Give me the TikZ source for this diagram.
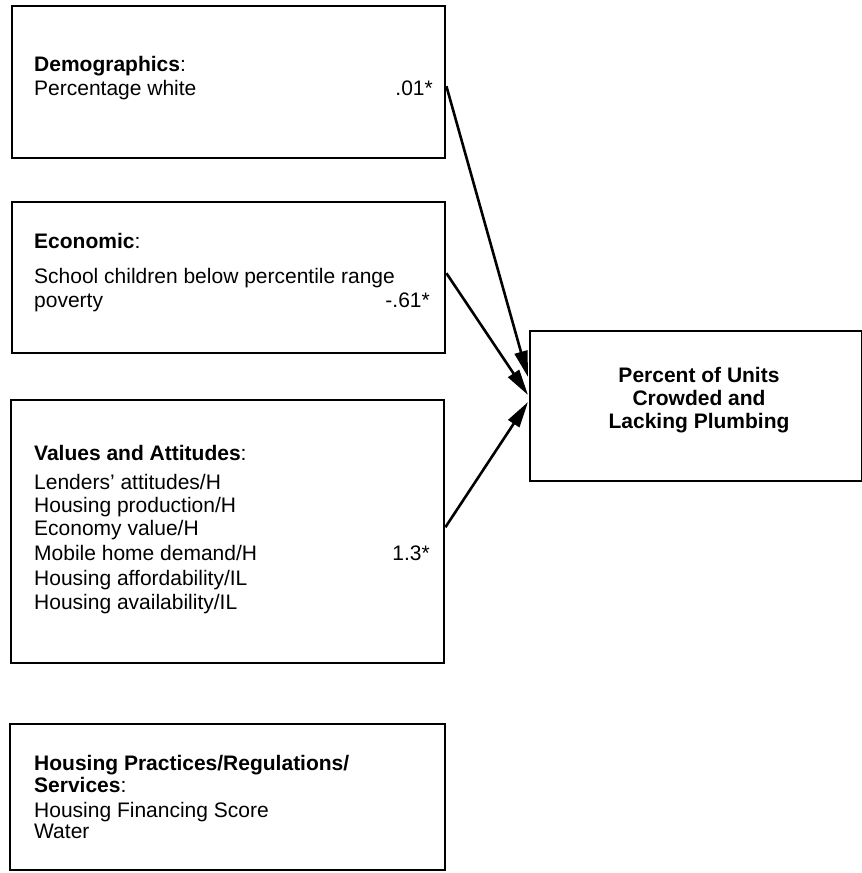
\documentclass[tikz,border=0pt]{standalone}
\usepackage{fontspec}
\setmainfont{Liberation Sans}
\usetikzlibrary{arrows.meta,calc}
\begin{document}
\begin{tikzpicture}[x=1pt,y=-1pt,
  box/.style={draw, line width=2.4pt, rectangle, anchor=north west, inner sep=0pt},
  txt/.style={anchor=base west, inner sep=0pt, font=\fontsize{21}{24}\selectfont},
  val/.style={anchor=base east, inner sep=0pt, font=\fontsize{21}{24}\selectfont},
  ctr/.style={anchor=base, inner sep=0pt, font=\fontsize{21}{24}\selectfont\bfseries},
  link/.style={line width=2.6pt, -{Triangle[length=26pt,width=13pt]}}]
\useasboundingbox (0,0) rectangle (862,873);

% boxes
\node[box, minimum width=433pt, minimum height=152pt] (b1) at (11,5) {};
\node[box, minimum width=433pt, minimum height=151pt] (b2) at (11,201) {};
\node[box, minimum width=433pt, minimum height=263pt] (b3) at (10,399) {};
\node[box, minimum width=435pt, minimum height=146pt] (b4) at (9,723) {};
\node[box, minimum width=332pt, minimum height=150pt] (r) at (529,330) {};

% box 1
\node[txt] (d0) at (34,71) {\textbf{Demographics}:};
\node[txt] (d1) at (34,95) {Percentage white};
\node[val] (dv) at (433,95) {.01*};

% box 2
\node[txt] (e0) at (34,248) {\textbf{Economic}:};
\node[txt] (e1) at (34,283) {School children below percentile range};
\node[txt] (e2) at (34,307) {poverty};
\node[val] (ev) at (430,307) {-.61*};

% box 3
\node[txt] (v0) at (34,460) {\textbf{Values and Attitudes}:};
\node[txt] (v1) at (34,489) {Lenders’ attitudes/H};
\node[txt] (v2) at (34,512) {Housing production/H};
\node[txt] (v3) at (34,535) {Economy value/H};
\node[txt] (v4) at (34,560) {Mobile home demand/H};
\node[txt] (v5) at (34,585) {Housing affordability/IL};
\node[txt] (v6) at (34,609) {Housing availability/IL};
\node[val] (vv) at (430,560) {1.3*};

% box 4
\node[txt] (h0) at (34,770) {\textbf{Housing Practices/Regulations/}};
\node[txt] (h1) at (34,792) {\textbf{Services}:};
\node[txt] (h2) at (34,817) {Housing Financing Score};
\node[txt] (h3) at (34,838) {Water};

% outcome box
\node[ctr] (r0) at (699,382) {Percent of Units};
\node[ctr] (r1) at (699,405) {Crowded and};
\node[ctr] (r2) at (699,428) {Lacking Plumbing};

% arrow tips on the outcome box
\coordinate (t1) at (528,377);
\coordinate (t2) at (528,395);
\coordinate (t3) at (528,402);

\draw[link] ($(b1.east)+(0,4)$) -- (t1);
\draw[link] ($(b2.east)+(0,-4.5)$) -- (t2);
\draw[link] ($(b3.east)+(0,-4.5)$) -- (t3);
\end{tikzpicture}
\end{document}
